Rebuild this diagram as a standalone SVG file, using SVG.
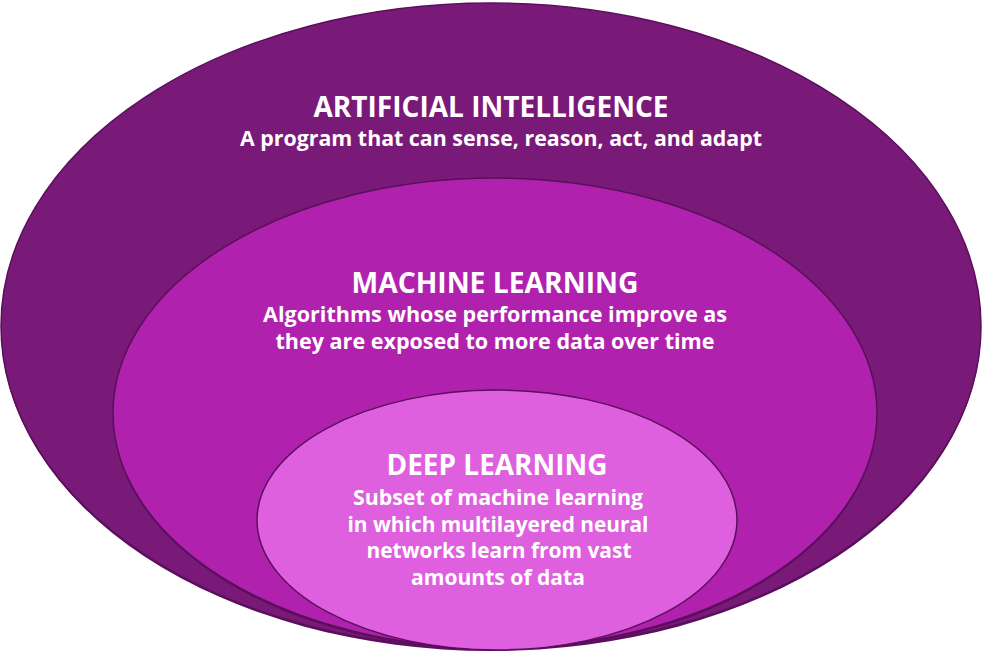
<svg xmlns="http://www.w3.org/2000/svg" width="983" height="653" viewBox="0 0 983 653">
  <style>
    .ring { stroke: #5a0f5c; stroke-width: 1.5; }
    .shadow { fill: #5e0f60; }
    .t { font-family: "Open Sans", "Noto Sans", "Liberation Sans", sans-serif; font-weight: bold; fill: #ffffff; text-anchor: middle; }
    .h { font-size: 28px; }
    .s { font-size: 21px; }
  </style>
  <rect width="983" height="653" fill="#ffffff"/>
  <g id="ai">
    <ellipse class="shadow" cx="491" cy="328" rx="490" ry="323"/>
    <ellipse class="ring" cx="491" cy="326" rx="490" ry="323" fill="#7a1a78"/>
    <text class="t h" x="491" y="117" textLength="355" lengthAdjust="spacingAndGlyphs">ARTIFICIAL INTELLIGENCE</text>
    <text class="t s" x="501" y="146" textLength="522" lengthAdjust="spacingAndGlyphs">A program that can sense, reason, act, and adapt</text>
  </g>
  <g id="ml">
    <ellipse class="shadow" cx="495" cy="415" rx="382" ry="235"/>
    <ellipse class="ring" cx="495" cy="413" rx="382" ry="235" fill="#b022ae"/>
    <text class="t h" x="495" y="293" textLength="287" lengthAdjust="spacingAndGlyphs">MACHINE LEARNING</text>
    <text class="t s" x="495" y="322" textLength="464" lengthAdjust="spacingAndGlyphs">Algorithms whose performance improve as</text>
    <text class="t s" x="495" y="349" textLength="439" lengthAdjust="spacingAndGlyphs">they are exposed to more data over time</text>
  </g>
  <g id="dl">
    <ellipse class="ring" cx="497" cy="520" rx="240" ry="130" fill="#de60de"/>
    <text class="t h" x="497" y="475" textLength="221" lengthAdjust="spacingAndGlyphs">DEEP LEARNING</text>
    <text class="t s" x="498" y="505" textLength="290" lengthAdjust="spacingAndGlyphs">Subset of machine learning</text>
    <text class="t s" x="498" y="532" textLength="301" lengthAdjust="spacingAndGlyphs">in which multilayered neural</text>
    <text class="t s" x="499" y="558" textLength="265" lengthAdjust="spacingAndGlyphs">networks learn from vast</text>
    <text class="t s" x="498" y="585" textLength="174" lengthAdjust="spacingAndGlyphs">amounts of data</text>
  </g>
  <g id="connectors"/>
</svg>
